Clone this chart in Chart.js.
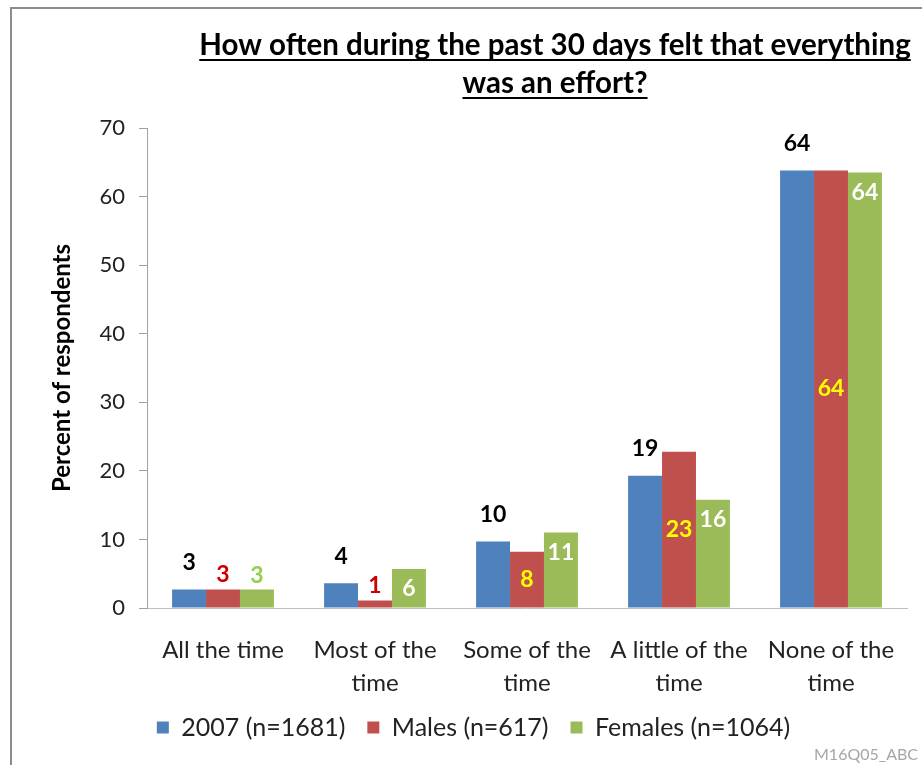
<!DOCTYPE html>
<html>
<head>
<meta charset="utf-8">
<script src="https://cdn.jsdelivr.net/npm/chart.js@4.4.1/dist/chart.umd.min.js"></script>
<style>
    html, body { margin: 0; padding: 0; background: #fff; }
    #wrap { width: 922px; height: 765px; }
</style>
</head>
<body>
<div id="wrap"><canvas id="barChart" width="922" height="765"></canvas></div>
<script>
/* Data */
const categories = [["All the time"], ["Most of the", "time"], ["Some of the", "time"], ["A little of the", "time"], ["None of the", "time"]];
const seriesNames = ["2007 (n=1681)", "Males (n=617)", "Females (n=1064)"];
const values2007 = [2.7, 3.6, 9.7, 19.3, 63.8];
const valuesMales = [2.7, 1.1, 8.2, 22.8, 63.8];
const valuesFemales = [2.7, 5.7, 11.0, 15.8, 63.5];
const labels2007 = ["3", "4", "10", "19", "64"];
const labelsMales = ["3", "1", "8", "23", "64"];
const labelsFemales = ["3", "6", "11", "16", "64"];
const titleLines = ["How often during the past 30 days felt that everything", "was an effort?"];
const footNote = "M16Q05_ABC";

const FONT = 'Lato, "Noto Sans", sans-serif';

/* Underlined title, frame and footnote */
const decorPlugin = {
    id: "decor",
    afterDraw: function (chart) {
        const ctx = chart.ctx;
        ctx.save();
        // frame (left and top edges only)
        ctx.strokeStyle = "#8C8C8C";
        ctx.lineWidth = 2;
        ctx.beginPath();
        ctx.moveTo(11, 765);
        ctx.lineTo(11, 8);
        ctx.lineTo(922, 8);
        ctx.stroke();

        ctx.font = "bold 29.5px " + FONT;
        ctx.fillStyle = "#000";
        ctx.textAlign = "center";
        ctx.textBaseline = "alphabetic";
        const cx = 555;
        titleLines.forEach(function (line, i) {
            const y = 55 + i * 38;
            ctx.fillText(line, cx, y);
            const w = ctx.measureText(line).width;
            ctx.fillRect(cx - w / 2, y + 4, w, 2);
        });

        ctx.font = "16px " + FONT;
        ctx.fillStyle = "#A6A6A6";
        ctx.textAlign = "right";
        ctx.fillText(footNote, 918, 760);
        ctx.restore();
    }
};

/* Value labels on the bars */
const valueLabelPlugin = {
    id: "valueLabels",
    afterDatasetsDraw: function (chart) {
        const ctx = chart.ctx;
        const texts = [labels2007, labelsMales, labelsFemales];
        ctx.save();
        ctx.font = "bold 23px " + FONT;
        ctx.textAlign = "center";
        ctx.textBaseline = "middle";
        chart.data.datasets.forEach(function (ds, d) {
            chart.getDatasetMeta(d).data.forEach(function (bar, i) {
                const v = ds.data[i];
                let color, y;
                if (d === 0) {
                    color = "#000"; y = bar.y - 27;
                } else if (d === 1) {
                    if (v < 5) { color = "#CC0000"; y = bar.y - 15; }
                    else { color = "#FFFF00"; y = (bar.y + bar.base) / 2; }
                } else {
                    if (v < 5) { color = "#92D050"; y = bar.y - 14; }
                    else { color = "#FFFFFF"; y = bar.y + 20; }
                }
                ctx.fillStyle = color;
                ctx.fillText(texts[d][i], bar.x, y);
            });
        });
        ctx.restore();
    }
};

new Chart(document.getElementById("barChart").getContext("2d"), {
    type: "bar",
    data: {
        labels: categories,
        datasets: [
            { label: seriesNames[0], data: values2007, backgroundColor: "#4F81BD" },
            { label: seriesNames[1], data: valuesMales, backgroundColor: "#C0504D" },
            { label: seriesNames[2], data: valuesFemales, backgroundColor: "#9BBB59" }
        ]
    },
    options: {
        responsive: false,
        animation: false,
        barPercentage: 1,
        categoryPercentage: 0.67,
        layout: { padding: { left: 40, top: 128, right: 15, bottom: 15 } },
        plugins: {
            title: { display: false },
            tooltip: { enabled: false },
            legend: {
                position: "bottom",
                labels: {
                    boxWidth: 12,
                    boxHeight: 12,
                    color: "#222",
                    padding: 22,
                    font: { size: 25, family: FONT }
                }
            }
        },
        scales: {
            x: {
                grid: { display: true, drawOnChartArea: false, drawTicks: false },
                border: { color: "#BFBFBF" },
                ticks: {
                    color: "#222",
                    padding: 26,
                    maxRotation: 0,
                    autoSkip: false,
                    font: { size: 24, family: FONT, lineHeight: 1.375 }
                },
                afterFit: function (scale) { scale.height = 85; }
            },
            y: {
                min: 0,
                max: 70,
                ticks: { stepSize: 10, color: "#222", padding: 14, font: { size: 22, family: FONT } },
                grid: { drawOnChartArea: false, tickLength: 8, color: "#A0A0A0" },
                border: { color: "#A0A0A0" },
                title: {
                    display: true,
                    text: "Percent of respondents",
                    color: "#000",
                    padding: 8,
                    font: { size: 24, weight: "bold", family: FONT }
                },
                afterFit: function (scale) { scale.width = 107; }
            }
        }
    },
    plugins: [decorPlugin, valueLabelPlugin]
});
</script>
</body>
</html>
